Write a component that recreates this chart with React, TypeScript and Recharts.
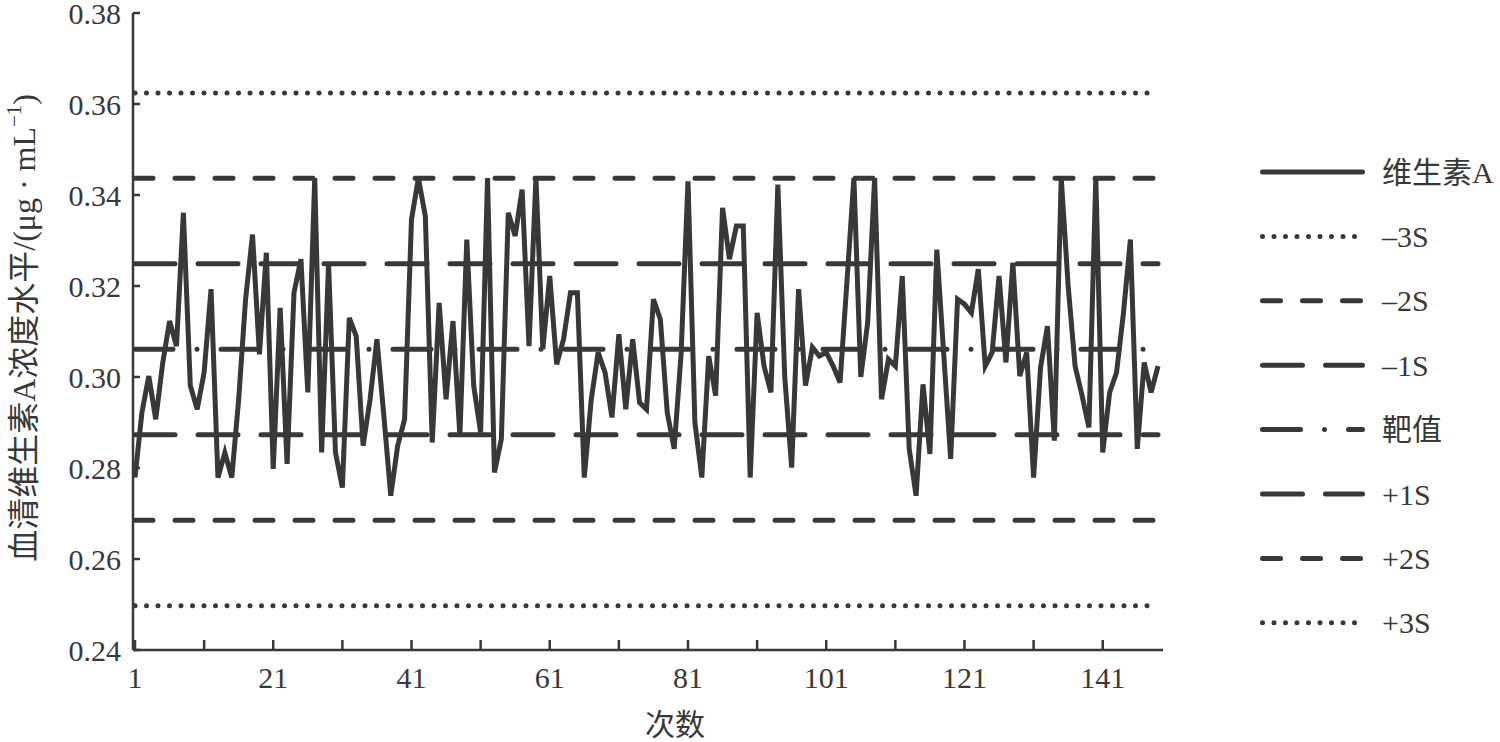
import { LineChart, Line, XAxis, YAxis } from 'recharts';

// serum vitamin A, run 1..149
const VITAMIN_A = [
  0.2779, 0.2922, 0.3002, 0.2907, 0.303, 0.3123, 0.3068, 0.3361, 0.2981, 0.2929,
  0.301, 0.3193, 0.2779, 0.2834, 0.2779, 0.2951, 0.3171, 0.3313, 0.305, 0.3273,
  0.2798, 0.3152, 0.2809, 0.3185, 0.3259, 0.2966, 0.3437, 0.2834, 0.3249, 0.2834,
  0.2757, 0.313, 0.309, 0.2849, 0.295, 0.3083, 0.2915, 0.2739, 0.2849, 0.2907,
  0.3346, 0.3437, 0.3354, 0.2856, 0.3163, 0.2951, 0.3123, 0.2871, 0.3302, 0.2981,
  0.2878, 0.3437, 0.279, 0.2864, 0.3361, 0.331, 0.3412, 0.3068, 0.3437, 0.3061,
  0.3222, 0.3028, 0.3083, 0.3185, 0.3185, 0.2779, 0.295, 0.3054, 0.301, 0.2911,
  0.3094, 0.2929, 0.3083, 0.2944, 0.2929, 0.3171, 0.3127, 0.2922, 0.2842, 0.305,
  0.343, 0.29, 0.2779, 0.3046, 0.2959, 0.3372, 0.3259, 0.3332, 0.3332, 0.2779,
  0.3141, 0.3024, 0.2966, 0.3423, 0.3, 0.2801, 0.3193, 0.2981, 0.3065, 0.3046,
  0.3054, 0.3024, 0.2988, 0.321, 0.3437, 0.3, 0.312, 0.3437, 0.2951, 0.3039,
  0.3024, 0.3222, 0.2842, 0.2739, 0.2984, 0.2831, 0.328, 0.305, 0.282, 0.3171,
  0.316, 0.3141, 0.3237, 0.3024, 0.3054, 0.3222, 0.3032, 0.3251, 0.3002, 0.3054,
  0.2779, 0.302, 0.3112, 0.286, 0.3437, 0.32, 0.3024, 0.296, 0.2889, 0.3437,
  0.2834, 0.2966, 0.301, 0.3141, 0.3302, 0.2842, 0.3032, 0.2966, 0.3024,
];

const SERIES_NAME = '维生素A';
const LIMIT_NAMES = ['–3S', '–2S', '–1S', '靶值', '+1S', '+2S', '+3S'];
const LIMIT_VALUES = [0.3624, 0.3437, 0.3249, 0.3061, 0.2873, 0.2685, 0.2497];

const Y_TICKS = [0.24, 0.26, 0.28, 0.3, 0.32, 0.34, 0.36, 0.38];
const X_TICKS = [1, 11, 21, 31, 41, 51, 61, 71, 81, 91, 101, 111, 121, 131, 141];
const X_LABELS = [1, 21, 41, 61, 81, 101, 121, 141];

const INK = '#383838';
const FONT = "'Liberation Serif', 'Times New Roman', 'DejaVu Serif', 'Noto Sans CJK SC', serif";

// dash pattern per limit line, same order as LIMIT_NAMES
const LIMIT_DASH = ['0 11.5', '18 22', '40 23', '38 24 0 24', '40 23', '18 22', '0 11.5'];

const rows = VITAMIN_A.map((v, i) => {
  const row: Record<string, number> = { x: i + 1, va: v };
  LIMIT_VALUES.forEach((lv, k) => {
    row['l' + k] = lv;
  });
  return row;
});

function Legend() {
  const items = [{ name: SERIES_NAME, dash: undefined as string | undefined }].concat(
    LIMIT_NAMES.map((n, k) => ({ name: n, dash: LIMIT_DASH[k] }))
  );
  return (
    <svg width={1500} height={742} style={{ position: 'absolute', left: 0, top: 0, pointerEvents: 'none' }}>
      {items.map((it, k) => {
        const y = 172 + k * 64.4;
        return (
          <g key={it.name}>
            <line
              x1={1262.5}
              x2={1362.5}
              y1={y}
              y2={y}
              stroke={INK}
              strokeWidth={5}
              strokeLinecap="round"
              strokeDasharray={it.dash}
            />
            <text x={1382} y={y} dominantBaseline="central" fontSize={30} style={{ fontFamily: FONT }} fill={INK}>
              {it.name}
            </text>
          </g>
        );
      })}
    </svg>
  );
}

export default function App() {
  return (
    <div style={{ position: 'absolute', left: 0, top: 0, width: 1500, height: 742, background: '#fff', fontFamily: FONT }}>
      <LineChart width={1500} height={742} data={rows} margin={{ top: 13, right: 337, bottom: 32, left: 53 }}>
        <XAxis
          dataKey="x"
          type="number"
          domain={[0.71, 149.72]}
          allowDataOverflow
          ticks={X_TICKS}
          interval={0}
          tickFormatter={(v: number) => (X_LABELS.includes(v) ? String(v) : '')}
          height={60}
          axisLine={{ stroke: INK, strokeWidth: 2.5 }}
          tickLine={{ stroke: INK, strokeWidth: 2.5 }}
          tickSize={-10}
          tickMargin={27}
          tick={{ fill: INK, fontSize: 30, style: { fontFamily: FONT } }}
        />
        <YAxis
          type="number"
          domain={[0.24, 0.38]}
          allowDataOverflow
          ticks={Y_TICKS}
          interval={0}
          width={80}
          tickFormatter={(v: number) => v.toFixed(2)}
          axisLine={{ stroke: INK, strokeWidth: 2.5 }}
          tickLine={{ stroke: INK, strokeWidth: 2.5 }}
          tickSize={-7}
          tickMargin={19}
          tick={{ fill: INK, fontSize: 30, style: { fontFamily: FONT } }}
        />
        {LIMIT_NAMES.map((n, k) => (
          <Line
            key={n}
            dataKey={'l' + k}
            name={n}
            stroke={INK}
            strokeWidth={5}
            strokeLinecap="round"
            strokeDasharray={LIMIT_DASH[k]}
            dot={false}
            activeDot={false}
            isAnimationActive={false}
          />
        ))}
        <Line
          dataKey="va"
          name={SERIES_NAME}
          stroke={INK}
          strokeWidth={5}
          type="linear"
          dot={false}
          activeDot={false}
          isAnimationActive={false}
        />
      </LineChart>
      <Legend />
      <div
        style={{
          position: 'absolute',
          left: 22,
          top: 328,
          transform: 'translate(-50%, -50%) rotate(-90deg)',
          whiteSpace: 'nowrap',
          fontSize: 32,
          color: INK,
          lineHeight: 1,
        }}
      >
        血清维生素A浓度水平/(μg · mL<sup style={{ fontSize: '0.65em', verticalAlign: '0.7em' }}>−1</sup>)
      </div>
      <div
        style={{
          position: 'absolute',
          left: 675,
          top: 725,
          transform: 'translate(-50%, -50%)',
          whiteSpace: 'nowrap',
          fontSize: 30,
          color: INK,
          lineHeight: 1,
        }}
      >
        次数
      </div>
    </div>
  );
}
